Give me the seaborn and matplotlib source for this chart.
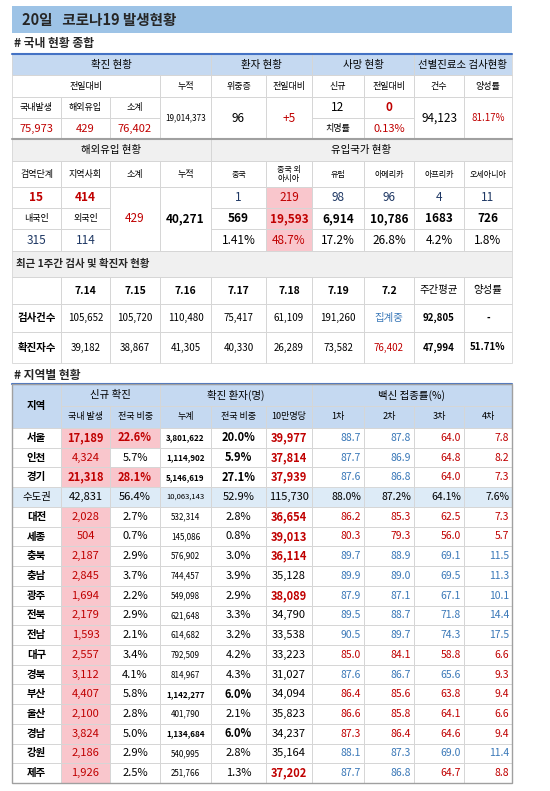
import matplotlib.pyplot as plt
import seaborn as sns
from matplotlib.patches import Rectangle

sns.set_theme(style="white")
plt.rcParams['font.family'] = ['Noto Sans CJK KR', 'DejaVu Sans']

# --- data ---
summary_heads = ["확진 현황", "환자 현황", "사망 현황", "선별진료소 검사현황"]
sub_heads = ["전일대비", "누적", "위중증", "전일대비", "신규", "전일대비", "건수", "양성률"]
daily_labels = ["국내발생", "해외유입", "소계"]
daily_values = ["75,973", "429", "76,402"]
cum_total = "19,014,373"
critical, critical_diff = "96", "+5"
deaths_new, deaths_diff, fatality = "12", "0", "0.13%"
tests_count, tests_pos = "94,123", "81.17%"

import_heads = ["검역단계", "지역사회", "소계", "누적"]
import_vals = ["15", "414"]
import_nat = ["내국인", "외국인"]
import_nat_vals = ["315", "114"]
import_sub, import_cum = "429", "40,271"
origin_labels = ["중국", "중국 외\n아시아", "유럽", "아메리카", "아프리카", "오세아니아"]
origin_today = ["1", "219", "98", "96", "4", "11"]
origin_cum = ["569", "19,593", "6,914", "10,786", "1683", "726"]
origin_share = ["1.41%", "48.7%", "17.2%", "26.8%", "4.2%", "1.8%"]

week_dates = ["7.14", "7.15", "7.16", "7.17", "7.18", "7.19", "7.2", "주간평균", "양성률"]
week_tests = ["105,652", "105,720", "110,480", "75,417", "61,109", "191,260", "집계중", "92,805", "-"]
week_cases = ["39,182", "38,867", "41,305", "40,330", "26,289", "73,582", "76,402", "47,994", "51.71%"]

regions = ["서울", "인천", "경기", "수도권", "대전", "세종", "충북", "충남", "광주", "전북",
           "전남", "대구", "경북", "부산", "울산", "경남", "강원", "제주"]
new_local = ["17,189", "4,324", "21,318", "42,831", "2,028", "504", "2,187", "2,845", "1,694", "2,179",
             "1,593", "2,557", "3,112", "4,407", "2,100", "3,824", "2,186", "1,926"]
new_share = ["22.6%", "5.7%", "28.1%", "56.4%", "2.7%", "0.7%", "2.9%", "3.7%", "2.2%", "2.9%",
             "2.1%", "3.4%", "4.1%", "5.8%", "2.8%", "5.0%", "2.9%", "2.5%"]
cum_cases = ["3,801,622", "1,114,902", "5,146,619", "10,063,143", "532,314", "145,086", "576,902", "744,457",
             "549,098", "621,648", "614,682", "792,509", "814,967", "1,142,277", "401,790", "1,134,684",
             "540,995", "251,766"]
cum_share = ["20.0%", "5.9%", "27.1%", "52.9%", "2.8%", "0.8%", "3.0%", "3.9%", "2.9%", "3.3%",
             "3.2%", "4.2%", "4.3%", "6.0%", "2.1%", "6.0%", "2.8%", "1.3%"]
per100k = ["39,977", "37,814", "37,939", "115,730", "36,654", "39,013", "36,114", "35,128", "38,089", "34,790",
           "33,538", "33,223", "31,027", "34,094", "35,823", "34,237", "35,164", "37,202"]
per100k_hi = [1, 1, 1, 0, 1, 1, 1, 0, 1, 0, 0, 0, 0, 0, 0, 0, 0, 1]
vax = [["88.7", "87.8", "64.0", "7.8"], ["87.7", "86.9", "64.8", "8.2"], ["87.6", "86.8", "64.0", "7.3"],
       ["88.0%", "87.2%", "64.1%", "7.6%"], ["86.2", "85.3", "62.5", "7.3"], ["80.3", "79.3", "56.0", "5.7"],
       ["89.7", "88.9", "69.1", "11.5"], ["89.9", "89.0", "69.5", "11.3"], ["87.9", "87.1", "67.1", "10.1"],
       ["89.5", "88.7", "71.8", "14.4"], ["90.5", "89.7", "74.3", "17.5"], ["85.0", "84.1", "58.8", "6.6"],
       ["87.6", "86.7", "65.6", "9.3"], ["86.4", "85.6", "63.8", "9.4"], ["86.6", "85.8", "64.1", "6.6"],
       ["87.3", "86.4", "64.6", "9.4"], ["88.1", "87.3", "69.0", "11.4"], ["87.7", "86.8", "64.7", "8.8"]]
vax_flag = ["bbrr", "bbrr", "bbrr", "kkkk", "rrrr", "rrrr", "bbbb", "bbbb", "bbbb", "bbbb",
            "bbbb", "rrrr", "bbbr", "rrrr", "rrrr", "rrrr", "bbbb", "bbrr"]

# --- styling ---
BLUE_HEAD = "#c5d9f1"
TITLE = "#9dc3e6"
PINK = "#f9c6cc"
GRAY = "#f0f0f0"
RED = "#c00000"
TBLUE = "#3a78b8"
LINE = "#d6d6d6"
XS = [12, 61, 110, 160, 211, 266, 312, 364, 414, 464, 512]

fig = plt.figure(figsize=(5.5, 7.91), dpi=100)
ax = fig.add_axes([0, 0, 1, 1])
ax.set_xlim(0, 550)
ax.set_ylim(791, 0)
ax.axis("off")


def cell(x0, x1, y0, y1, text="", fc=None, color="black", size=8, bold=False, edge=True):
    if fc:
        ax.add_patch(Rectangle((x0, y0), x1 - x0, y1 - y0, facecolor=fc, edgecolor="none", zorder=1))
    if edge:
        ax.add_patch(Rectangle((x0, y0), x1 - x0, y1 - y0, facecolor="none", edgecolor=LINE, lw=0.6, zorder=2))
    if text:
        ax.text((x0 + x1) / 2, (y0 + y1) / 2, text, ha="center", va="center", fontsize=size,
                color=color, fontweight="bold" if bold else "normal", zorder=3, linespacing=1.0)


# title
ax.add_patch(Rectangle((12, 6), 500, 27, facecolor=TITLE, edgecolor="none"))
ax.text(22, 19.5, "20일   코로나19 발생현황", fontsize=10.5, fontweight="bold", va="center")
ax.text(14, 43, "# 국내 현황 종합", fontsize=8.5, fontweight="bold", va="center")

# summary header
groups = [(0, 4), (4, 6), (6, 8), (8, 10)]
for (a, b), h in zip(groups, summary_heads):
    cell(XS[a], XS[b], 54, 75, h, fc=BLUE_HEAD, size=7.5)
sub_x = [(0, 3), (3, 4), (4, 5), (5, 6), (6, 7), (7, 8), (8, 9), (9, 10)]
for (a, b), h in zip(sub_x, sub_heads):
    cell(XS[a], XS[b], 75, 97, h, size=6.5)
for i in range(3):
    cell(XS[i], XS[i + 1], 97, 118, daily_labels[i], size=6.5)
    cell(XS[i], XS[i + 1], 118, 139, daily_values[i], color=RED, size=8)
cell(XS[3], XS[4], 97, 139, cum_total, size=5.8)
cell(XS[4], XS[5], 97, 139, critical, size=8.5)
cell(XS[5], XS[6], 97, 139, critical_diff, color=RED, size=8.5)
cell(XS[6], XS[7], 97, 118, deaths_new, size=8.5)
cell(XS[7], XS[8], 97, 118, deaths_diff, color=RED, size=8.5, bold=True)
cell(XS[6], XS[7], 118, 139, "치명률", size=6.5)
cell(XS[7], XS[8], 118, 139, fatality, color=RED, size=8)
cell(XS[8], XS[9], 97, 139, tests_count, size=8.5)
cell(XS[9], XS[10], 97, 139, tests_pos, color=RED, size=7)
ax.plot([12, 512], [54, 54], color="#4472c4", lw=1.5, zorder=4)
ax.plot([12, 512], [139, 139], color="#a0a0a0", lw=1.5, zorder=4)

# imports
cell(XS[0], XS[4], 139, 161, "해외유입 현황", fc=GRAY, size=7.5)
cell(XS[4], XS[10], 139, 161, "유입국가 현황", fc=GRAY, size=7.5)
for i, h in enumerate(import_heads):
    cell(XS[i], XS[i + 1], 161, 187, h, size=6.5)
for i, h in enumerate(origin_labels):
    cell(XS[i + 4], XS[i + 5], 161, 187, h, size=5.8)
for i in range(2):
    cell(XS[i], XS[i + 1], 187, 208, import_vals[i], color=RED, size=8.5, bold=True)
    cell(XS[i], XS[i + 1], 208, 229, import_nat[i], size=6.5)
    cell(XS[i], XS[i + 1], 229, 251, import_nat_vals[i], color="#1f3864", size=8.5)
cell(XS[2], XS[3], 187, 251, import_sub, color=RED, size=8.5)
cell(XS[3], XS[4], 187, 251, import_cum, size=8.5, bold=True)
for i in range(6):
    fc = PINK if i == 1 else None
    cell(XS[i + 4], XS[i + 5], 187, 208, origin_today[i], fc=fc, color=RED if i == 1 else "#1f3864", size=8.5)
    cell(XS[i + 4], XS[i + 5], 208, 229, origin_cum[i], fc=fc, color=RED if i == 1 else "black", size=8.5, bold=True)
    cell(XS[i + 4], XS[i + 5], 229, 251, origin_share[i], fc=fc, color=RED if i == 1 else "black", size=8.5)

# weekly
ax.add_patch(Rectangle((12, 251), 500, 26, facecolor=GRAY, edgecolor=LINE, lw=0.6))
ax.text(16, 264, "최근 1주간 검사 및 확진자 현황", fontsize=7.5, fontweight="bold", va="center")
cell(XS[0], XS[1], 277, 304, "")
cell(XS[0], XS[1], 304, 332, "검사건수", size=7.5, bold=True)
cell(XS[0], XS[1], 332, 363, "확진자수", size=7.5, bold=True)
for i in range(9):
    x0, x1 = XS[i + 1], XS[i + 2]
    cell(x0, x1, 277, 304, week_dates[i], size=7.5, bold=i < 7)
    tcol = TBLUE if week_tests[i] == "집계중" else "black"
    cell(x0, x1, 304, 332, week_tests[i], color=tcol, size=7 if i != 6 else 7.5, bold=i >= 7)
    ccol = RED if i == 6 else "black"
    cell(x0, x1, 332, 363, week_cases[i], color=ccol, size=7, bold=i >= 7)
ax.text(14, 375, "# 지역별 현황", fontsize=8.5, fontweight="bold", va="center")

# region table header
cell(XS[0], XS[1], 384, 428, "지역", fc=BLUE_HEAD, size=7.5, bold=True)
cell(XS[1], XS[3], 384, 406, "신규 확진", fc=BLUE_HEAD, size=7.5)
cell(XS[3], XS[6], 384, 406, "확진 환자(명)", fc=BLUE_HEAD, size=7.5)
cell(XS[6], XS[10], 384, 406, "백신 접종률(%)", fc=BLUE_HEAD, size=7.5)
for i, h in enumerate(["국내 발생", "전국 비중", "누계", "전국 비중", "10만명당", "1차", "2차", "3차", "4차"]):
    cell(XS[i + 1], XS[i + 2], 406, 428, h, fc=BLUE_HEAD, size=6.5)
ax.plot([12, 512], [384, 384], color="#4472c4", lw=1.5, zorder=4)

rh = (783 - 428) / len(regions)
for r, name in enumerate(regions):
    y0, y1 = 428 + r * rh, 428 + (r + 1) * rh
    metro = name == "수도권"
    bg = "#ddebf7" if metro else None
    big = name in ("서울", "경기")
    cell(XS[0], XS[1], y0, y1, name, fc=bg, size=7.5, bold=not metro)
    cell(XS[1], XS[2], y0, y1, new_local[r], fc=bg if metro else PINK,
         color="black" if metro else RED, size=8, bold=big)
    cell(XS[2], XS[3], y0, y1, new_share[r], fc=PINK if big else bg,
         color=RED if big else "black", size=8, bold=big)
    cell(XS[3], XS[4], y0, y1, cum_cases[r], fc=bg, size=5.8 if not metro else 5.5,
         bold=big or name in ("인천", "부산", "경남"))
    share_b = float(cum_share[r].rstrip("%")) >= 5 and not metro
    cell(XS[4], XS[5], y0, y1, cum_share[r], fc=bg, size=8, bold=share_b)
    cell(XS[5], XS[6], y0, y1, per100k[r], fc=bg, color=RED if per100k_hi[r] else "black",
         size=8, bold=bool(per100k_hi[r]))
    for k in range(4):
        f = vax_flag[r][k]
        col = {"b": TBLUE, "r": RED, "k": "black"}[f]
        x1 = XS[7 + k]
        ax.add_patch(Rectangle((XS[6 + k], y0), x1 - XS[6 + k], y1 - y0, facecolor=bg or "none",
                               edgecolor=LINE, lw=0.6, zorder=1))
        ax.text(x1 - 3, (y0 + y1) / 2, vax[r][k], ha="right", va="center", fontsize=7.5, color=col, zorder=3)
ax.add_patch(Rectangle((12, 384), 500, 783 - 384, facecolor="none", edgecolor="#a0a0a0", lw=1, zorder=4))

fig.savefig("out.png", dpi=100)
